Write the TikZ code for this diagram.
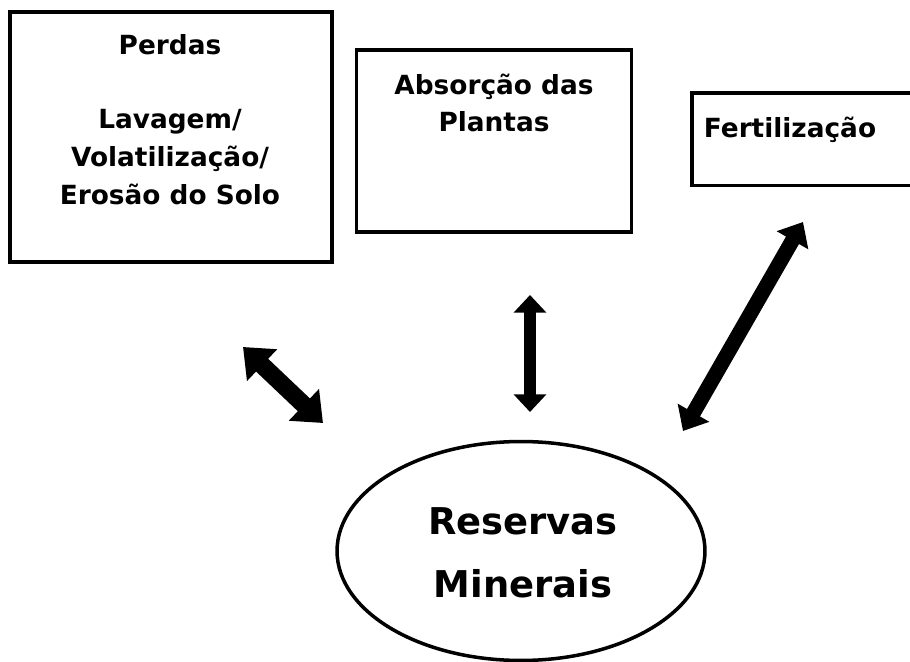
\documentclass[tikz,border=0pt]{standalone}
\usepackage{fontspec}
\setmainfont{DejaVu Sans}
\usetikzlibrary{arrows.meta,positioning,shapes.geometric}

\begin{document}
\begin{tikzpicture}[x=0.02cm,y=-0.02cm,
     box/.style={draw,line width=2pt,inner sep=0pt},
     txt/.style={font=\bfseries\fontsize{15}{21.5}\selectfont,align=center},
     bigtxt/.style={font=\bfseries\fontsize{21}{36}\selectfont,align=center},
     dbl/.style={line width=#1,line cap=butt}]
   \useasboundingbox (0,0) rectangle (910,662);
   % caixas
   \node[box,minimum width=6.44cm,minimum height=5cm] (perdas) at (171,137){};
   \node[box,minimum width=5.5cm,minimum height=3.64cm] (absorcao) at (494,141){};
   \node[box,minimum width=4.6cm,minimum height=1.86cm,anchor=north west] (fert) at (690,91){};
   \node[box,ellipse,minimum width=7.36cm,minimum height=4.38cm] (reservas) at (521,551){};
   % textos
   \node[txt] (tperdas) at (170,45) {Perdas};
   \node[txt] (tlav) at (170,157) {Lavagem/\\Volatilização/\\Erosão do Solo};
   \node[txt] (tabs) at (494,103) {Absorção das\\Plantas};
   \node[txt] (tfert) at (790,130) {Fertilização};
   \node[bigtxt] (tres) at (523,553) {Reservas\\Minerais};
   % setas
   \coordinate (pa) at (243,347); \coordinate (pb) at (323,423);
   \coordinate (aa) at (530,295); \coordinate (ab) at (530,412);
   \coordinate (fa) at (803,222); \coordinate (fb) at (683,431);
   \draw[dbl=10pt,{Triangle[width=24pt,length=15pt]}-{Triangle[width=24pt,length=15pt]}] (pa) -- (pb);
   \draw[dbl=7pt,{Triangle[width=18pt,length=10pt]}-{Triangle[width=18pt,length=10pt]}] (aa) -- (ab);
   \draw[dbl=8.5pt,{Triangle[width=20pt,length=12pt]}-{Triangle[width=20pt,length=12pt]}] (fa) -- (fb);
\end{tikzpicture}
\end{document}
